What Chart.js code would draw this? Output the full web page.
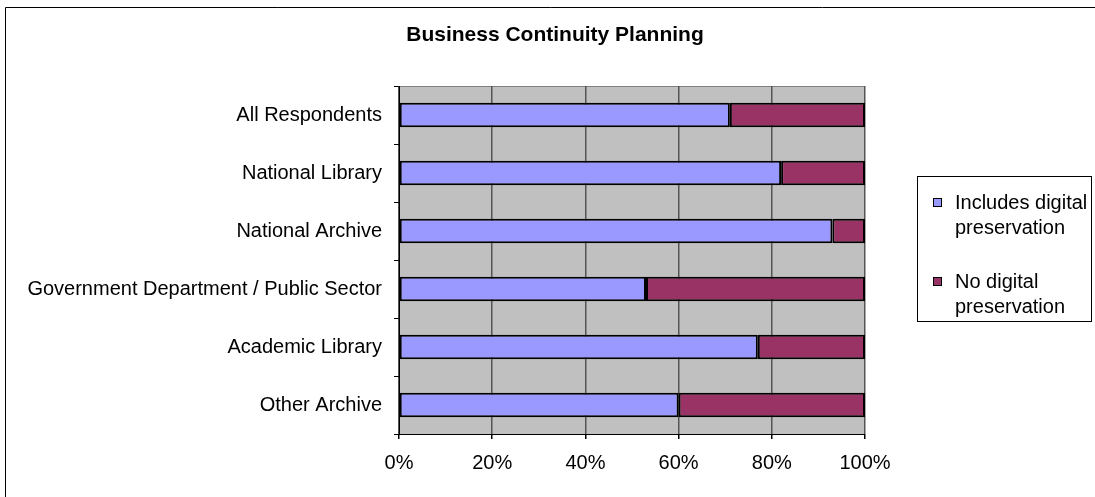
<!DOCTYPE html>
<html>
<head>
<meta charset="utf-8">
<script src="https://cdn.jsdelivr.net/npm/chart.js@4.4.1/dist/chart.umd.min.js"></script>
<style>
	html, body { margin: 0; padding: 0; background: #fff; }
	#wrap { width: 1095px; height: 497px; position: relative; }
</style>
</head>
<body>
<div id="wrap"><canvas id="chart"></canvas></div>
<script>
const categories = [
	"All Respondents",
	"National Library",
	"National Archive",
	"Government Department / Public Sector",
	"Academic Library",
	"Other Archive",
];
const includesDigital = [71, 82, 93, 53, 77, 60];
const noDigital = [29, 18, 7, 47, 23, 40];
const seriesNames = [
	["Includes digital", "preservation"],
	["No digital", "preservation"],
];
const xTicks = [0, 20, 40, 60, 80, 100];

const FONT = "Liberation Sans, Arial, sans-serif";

// grey plot background, frame around the whole chart, title
const backdrop = {
	id: "backdrop",
	beforeDraw(chart) {
		const { ctx, chartArea: a } = chart;
		ctx.save();
		ctx.fillStyle = "#c0c0c0";
		ctx.fillRect(a.left, a.top, a.right - a.left, a.bottom - a.top);
		ctx.strokeStyle = "#808080";
		ctx.lineWidth = 1;
		ctx.beginPath();
		ctx.moveTo(a.left, a.top + 0.5);
		ctx.lineTo(a.right, a.top + 0.5);
		ctx.stroke();

		ctx.strokeStyle = "#000";
		ctx.beginPath();
		ctx.moveTo(5.5, chart.height);
		ctx.lineTo(5.5, 7.5);
		ctx.lineTo(chart.width, 7.5);
		ctx.stroke();

		ctx.fillStyle = "#000";
		ctx.font = "bold 21px " + FONT;
		ctx.textAlign = "center";
		ctx.textBaseline = "middle";
		ctx.fillText("Business Continuity Planning", 555, 35);
		ctx.restore();
	},
};

// boxed legend on the right with two-line labels
const sideLegend = {
	id: "sideLegend",
	afterDraw(chart) {
		const { ctx } = chart;
		const box = { x: 917.5, y: 176.5, w: 174, h: 145 };
		ctx.save();
		ctx.strokeStyle = "#000";
		ctx.lineWidth = 1;
		ctx.fillStyle = "#fff";
		ctx.fillRect(box.x, box.y, box.w, box.h);
		ctx.strokeRect(box.x, box.y, box.w, box.h);
		ctx.font = "20px " + FONT;
		ctx.textBaseline = "middle";
		ctx.textAlign = "left";
		chart.data.datasets.forEach((ds, i) => {
			const y = 203 + i * 79;
			ctx.fillStyle = ds.backgroundColor;
			ctx.fillRect(933.5, y - 4.5, 8, 8);
			ctx.strokeRect(933.5, y - 4.5, 8, 8);
			ctx.fillStyle = "#000";
			seriesNames[i].forEach((line, j) => ctx.fillText(line, 955, y + j * 25));
		});
		ctx.restore();
	},
};

new Chart(document.getElementById("chart"), {
	type: "bar",
	plugins: [backdrop, sideLegend],
	data: {
		labels: categories,
		datasets: [
			{
				label: seriesNames[0].join(" "),
				data: includesDigital,
				backgroundColor: "#9999ff",
			},
			{
				label: seriesNames[1].join(" "),
				data: noDigital,
				backgroundColor: "#993366",
			},
		],
	},
	options: {
		indexAxis: "y",
		responsive: true,
		maintainAspectRatio: false,
		animation: false,
		devicePixelRatio: 1,
		layout: { padding: { top: 86, right: 230, bottom: 0, left: 0 } },
		datasets: {
			bar: {
				borderColor: "#000",
				borderWidth: 2,
				borderSkipped: false,
				categoryPercentage: 1,
				barPercentage: 0.42,
			},
		},
		plugins: {
			legend: { display: false },
			title: { display: false },
			tooltip: { enabled: false },
		},
		scales: {
			x: {
				stacked: true,
				min: 0,
				max: 100,
				afterFit: s => { s.height = 63; },
				afterBuildTicks: s => { s.ticks = xTicks.map(v => ({ value: v })); },
				ticks: {
					color: "#000",
					font: { family: FONT, size: 20 },
					padding: 12,
					callback: v => v + "%",
				},
				grid: {
					color: "#555",
					lineWidth: 1.5,
					tickColor: "#000",
					tickLength: 5,
				},
				border: { color: "#000", width: 1 },
			},
			y: {
				stacked: true,
				afterFit: s => { s.width = 399; },
				ticks: {
					color: "#000",
					font: { family: FONT, size: 20 },
					padding: 12,
				},
				grid: {
					offset: true,
					drawOnChartArea: false,
					tickColor: "#000",
					tickLength: 5,
				},
				border: { color: "#000", width: 1 },
			},
		},
	},
});
</script>
</body>
</html>
